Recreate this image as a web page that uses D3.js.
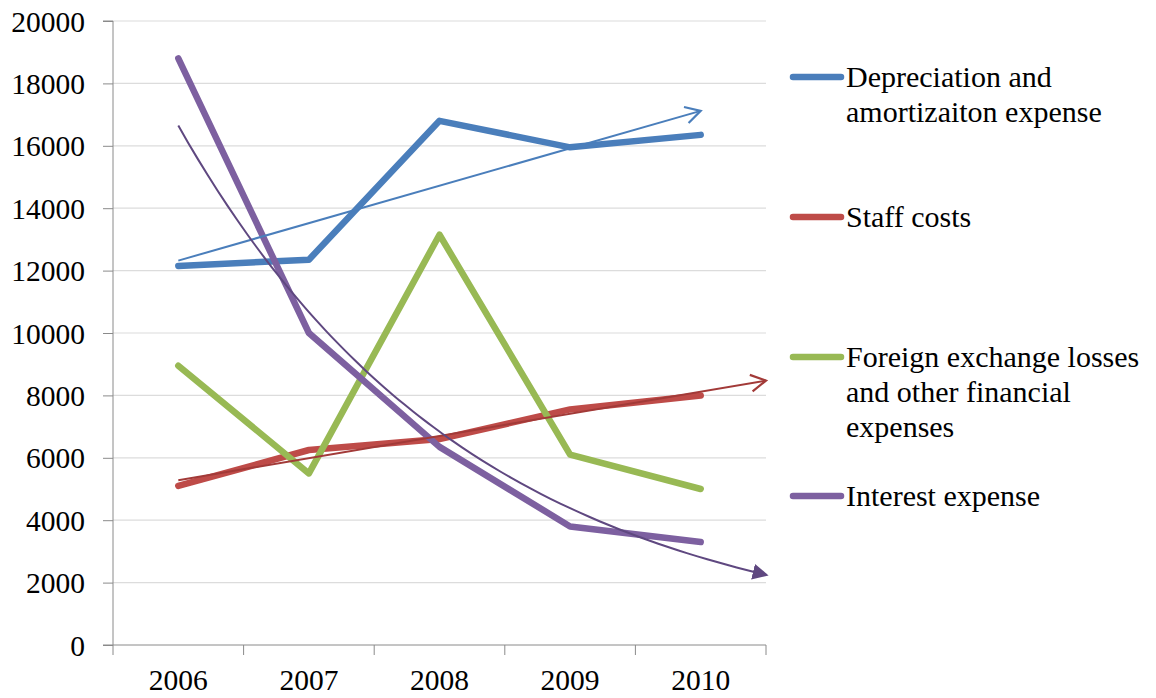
<!DOCTYPE html>
<html>
<head>
<meta charset="utf-8">
<script src="https://cdn.jsdelivr.net/npm/d3@7"></script>
<style>
  html, body { margin: 0; padding: 0; background: #fff; }
  svg { display: block; }
</style>
</head>
<body>
<svg id="chart" width="1156" height="698" font-family="Liberation Serif"></svg>
<script>
const years = ["2006", "2007", "2008", "2009", "2010"];
const depreciation = [12150, 12350, 16800, 15950, 16350];
const staffCosts = [5100, 6250, 6600, 7550, 8000];
const foreignExchange = [8950, 5500, 13150, 6100, 5000];
const interestExpense = [18800, 10000, 6350, 3800, 3300];
const yTicks = [0, 2000, 4000, 6000, 8000, 10000, 12000, 14000, 16000, 18000, 20000];

const FONT = "'Liberation Serif', 'Times New Roman', Times, serif";

const seriesList = [
  { name: ["Depreciation and", "amortizaiton expense"], values: depreciation, color: "#4A7EBB",
    trend: { type: "linear", forward: 0, color: "#4A7EBB", arrow: "open" } },
  { name: ["Staff costs"], values: staffCosts, color: "#BE4B48",
    trend: { type: "linear", forward: 0.5, color: "#A23A38", arrow: "open" } },
  { name: ["Foreign exchange losses", "and other financial", "expenses"], values: foreignExchange, color: "#98B954", trend: null },
  { name: ["Interest expense"], values: interestExpense, color: "#7D60A0",
    trend: { type: "exp", forward: 0.5, color: "#5F4880", arrow: "filled" } }
];

const svg = d3.select("#chart");
const plotLeft = 113, plotRight = 766, plotTop = 21, plotBottom = 645;

const xBand = d3.scaleBand().domain(years).range([plotLeft, plotRight]).padding(0);
const xIdx = d3.scaleLinear().domain([0.5, 5.5]).range([plotLeft, plotRight]);
const y = d3.scaleLinear().domain([0, 20000]).range([plotBottom, plotTop]);

// markers
const defs = svg.append("defs");
seriesList.forEach((s, i) => {
  if (!s.trend) return;
  const m = defs.append("marker")
    .attr("id", "arr" + i)
    .attr("viewBox", "0 0 12 12")
    .attr("refX", 10)
    .attr("refY", 6)
    .attr("markerUnits", "userSpaceOnUse")
    .attr("markerWidth", s.trend.arrow === "open" ? 20 : 16)
    .attr("markerHeight", s.trend.arrow === "open" ? 20 : 16)
    .attr("orient", "auto");
  if (s.trend.arrow === "open") {
    m.append("path").attr("d", "M1,1 L10,6 L1,11")
      .attr("fill", "none").attr("stroke", s.trend.color).attr("stroke-width", 1.3);
  } else {
    m.append("path").attr("d", "M0,0 L12,6 L0,12 Z").attr("fill", s.trend.color);
  }
});

// gridlines
svg.append("g").selectAll("line").data(yTicks.filter(t => t > 0)).join("line")
  .attr("x1", plotLeft).attr("x2", plotRight)
  .attr("y1", d => y(d)).attr("y2", d => y(d))
  .attr("stroke", "#dcdcdc").attr("stroke-width", 1.2);

// y axis
const yAxis = svg.append("g").attr("transform", `translate(${plotLeft},0)`)
  .call(d3.axisLeft(y).tickValues(yTicks).tickSize(10).tickPadding(18).tickFormat(d3.format("d")));
yAxis.attr("font-family", null).attr("font-size", null);
yAxis.selectAll("text").style("font-family", FONT).style("font-size", "29.5px").style("fill", "#000").attr("dy", "0.34em");
yAxis.selectAll("line").attr("stroke", "#8a8a8a");
yAxis.select(".domain").attr("stroke", "#8a8a8a").attr("d", `M-10,${plotTop}H0V${plotBottom}H-10`);

// x axis
const xAxis = svg.append("g").attr("transform", `translate(0,${plotBottom})`)
  .call(d3.axisBottom(xBand).tickSize(0).tickPadding(24));
xAxis.attr("font-family", null).attr("font-size", null);
xAxis.selectAll("text").style("font-family", FONT).style("font-size", "29.5px").style("fill", "#000").attr("dy", "0.71em");
xAxis.select(".domain").attr("stroke", "#8a8a8a").attr("d", `M${plotLeft},0H${plotRight}`);
const bounds = years.map(d => xBand(d)).concat([plotRight]);
xAxis.append("g").selectAll("line").data(bounds).join("line")
  .attr("x1", d => d).attr("x2", d => d).attr("y1", 0).attr("y2", 10)
  .attr("stroke", "#8a8a8a");

// regression helpers (trendlines fitted to the series values)
function fitLinear(vals) {
  const xs = vals.map((v, i) => i + 1);
  const mx = d3.mean(xs), my = d3.mean(vals);
  const b = d3.sum(xs, (x, i) => (x - mx) * (vals[i] - my)) / d3.sum(xs, x => (x - mx) ** 2);
  return x => my + b * (x - mx);
}
function fitExp(vals) {
  const lv = vals.map(Math.log);
  const f = fitLinear(lv);
  return x => Math.exp(f(x));
}

// main lines
const line = d3.line().x((d, i) => xBand(years[i]) + xBand.bandwidth() / 2).y(d => y(d));
seriesList.forEach(s => {
  svg.append("path").datum(s.values)
    .attr("d", line)
    .attr("fill", "none").attr("stroke", s.color)
    .attr("stroke-width", 6.5).attr("stroke-linejoin", "round").attr("stroke-linecap", "round");
});

// trendlines
seriesList.forEach((s, i) => {
  if (!s.trend) return;
  const f = s.trend.type === "linear" ? fitLinear(s.values) : fitExp(s.values);
  const x0 = 1, x1 = 5 + s.trend.forward;
  const steps = s.trend.type === "linear" ? [x0, x1] : d3.range(x0, x1 + 1e-9, (x1 - x0) / 60);
  const tl = d3.line().x(d => xIdx(d)).y(d => y(f(d))).curve(d3.curveMonotoneX);
  svg.append("path").datum(steps)
    .attr("d", tl)
    .attr("fill", "none").attr("stroke", s.trend.color)
    .attr("stroke-width", 2)
    .attr("marker-end", `url(#arr${i})`);
});

// legend
const legendY = [77, 217, 357, 496];
const lg = svg.append("g");
seriesList.forEach((s, i) => {
  const g = lg.append("g").attr("transform", `translate(0,${legendY[i]})`);
  g.append("line").attr("x1", 793).attr("x2", 841).attr("y1", 0).attr("y2", 0)
    .attr("stroke", s.color).attr("stroke-width", 6.5).attr("stroke-linecap", "round");
  const t = g.append("text").attr("x", 846).attr("y", 0)
    .style("font-family", FONT).style("font-size", "30px").style("fill", "#000");
  s.name.forEach((ln, j) => {
    t.append("tspan").attr("x", 846).attr("dy", j === 0 ? "0.34em" : "1.16em").text(ln);
  });
});
</script>
</body>
</html>
